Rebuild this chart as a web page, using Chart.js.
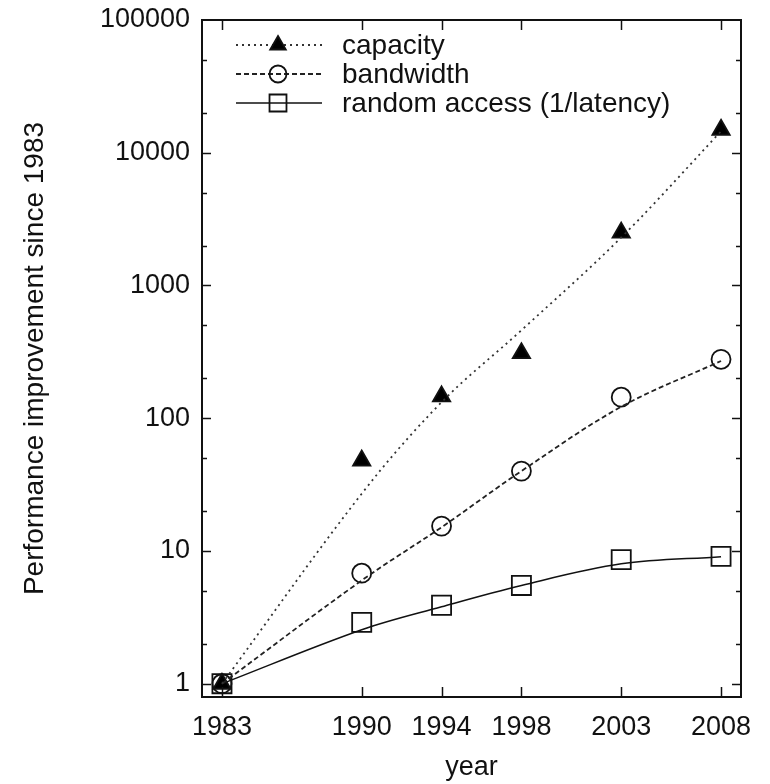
<!DOCTYPE html>
<html>
<head>
<meta charset="utf-8">
<script src="https://cdn.jsdelivr.net/npm/chart.js@4.4.1/dist/chart.umd.min.js"></script>
<style>
  html, body { margin: 0; padding: 0; background: #fff; }
  #wrap { width: 770px; height: 784px; }
</style>
</head>
<body>
<div id="wrap"><canvas id="chart"></canvas></div>
<script>
const years = [1983, 1990, 1994, 1998, 2003, 2008];
const capacity = [1, 48, 146, 309, 2500, 14900];
const bandwidth = [1, 6.8, 15.4, 40, 144, 278];
const randomAccess = [1, 2.9, 3.9, 5.5, 8.6, 9.1];
// fitted curves at the same years
const capacityFit = [1, 27, 132, 460, 2300, 14500];
const bandwidthFit = [1, 6.0, 15.1, 40, 122, 270];
const randomAccessFit = [1, 2.55, 3.8, 5.5, 8.0, 9.06];
const yTicks = [1, 10, 100, 1000, 10000, 100000];
const seriesNames = ["capacity", "bandwidth", "random access (1/latency)"];

const FONT = "'Liberation Sans', Arial, sans-serif";
const pts = (vals) => years.map((yr, i) => ({ x: yr, y: vals[i] }));

const styles = [
  { pointStyle: "triangle", radius: 10, fill: "#000", dash: [2, 4], width: 1.8, color: "#333" },
  { pointStyle: "circle", radius: 9.5, fill: "rgba(0,0,0,0)", dash: [5, 3], width: 1.8, color: "#222" },
  { pointStyle: "rect", radius: 13.5, fill: "rgba(0,0,0,0)", dash: [], width: 1.5, color: "#111" },
];
const fits = [capacityFit, bandwidthFit, randomAccessFit];
const marks = [capacity, bandwidth, randomAccess];

const datasets = [];
fits.forEach((f, i) => {
  datasets.push({
    data: pts(f),
    borderColor: styles[i].color,
    borderWidth: styles[i].width,
    borderDash: styles[i].dash,
    tension: 0.35,
    pointRadius: 0,
    fill: false,
  });
});
marks.forEach((m, i) => {
  datasets.push({
    data: pts(m),
    showLine: false,
    pointStyle: styles[i].pointStyle,
    pointRadius: styles[i].radius,
    pointBorderWidth: 1.8,
    pointBorderColor: "#111",
    pointBackgroundColor: styles[i].fill,
  });
});

function seg(ctx, x1, y1, x2, y2) {
  ctx.beginPath();
  ctx.moveTo(x1, y1);
  ctx.lineTo(x2, y2);
  ctx.stroke();
}

const framePlugin = {
  id: "frame",
  afterDatasetsDraw(chart) {
    const { ctx, chartArea: a, scales } = chart;
    const x = scales.x, y = scales.y;
    ctx.save();
    ctx.strokeStyle = "#111";
    ctx.lineWidth = 1.5;
    years.forEach((v) => {
      const px = Math.round(x.getPixelForValue(v)) + 0.5;
      seg(ctx, px, a.bottom, px, a.bottom - 10);
      seg(ctx, px, a.top, px, a.top + 10);
    });
    for (let d = 0; d < 5; d++) {
      [1, 2, 5].forEach((m) => {
        const v = m * Math.pow(10, d);
        const py = Math.round(y.getPixelForValue(v)) + 0.5;
        const len = m === 1 ? 9 : 5;
        seg(ctx, a.left, py, a.left + len, py);
        seg(ctx, a.right, py, a.right - len, py);
      });
    }
    ctx.lineWidth = 2;
    ctx.strokeRect(a.left, a.top, a.right - a.left, a.bottom - a.top);
    ctx.restore();
  },
};

const legendPlugin = {
  id: "lineLegend",
  afterDraw(chart) {
    const { ctx, chartArea: a } = chart;
    const x1 = a.left + 34, x2 = a.left + 120, xm = a.left + 76, xt = a.left + 140;
    seriesNames.forEach((name, i) => {
      const yy = a.top + 25 + i * 29;
      const s = styles[i];
      ctx.save();
      ctx.strokeStyle = s.color;
      ctx.lineWidth = s.width;
      ctx.setLineDash(s.dash);
      seg(ctx, x1, yy, x2, yy);
      ctx.setLineDash([]);
      ctx.strokeStyle = "#111";
      ctx.fillStyle = s.fill;
      ctx.lineWidth = 1.8;
      Chart.helpers.drawPoint(ctx, {
        pointStyle: s.pointStyle,
        radius: s.pointStyle === "rect" ? 12 : s.radius - 1,
        borderWidth: 1.8,
        rotation: 0,
      }, xm, yy);
      ctx.fillStyle = "#111";
      ctx.font = "28px " + FONT;
      ctx.textBaseline = "middle";
      ctx.textAlign = "left";
      ctx.fillText(name, xt, yy + 1);
      ctx.restore();
    });
  },
};

new Chart(document.getElementById("chart"), {
  type: "line",
  data: { datasets: datasets },
  plugins: [framePlugin, legendPlugin],
  options: {
    responsive: true,
    maintainAspectRatio: false,
    animation: false,
    layout: { padding: { top: 20, right: 29, left: 0, bottom: 0 } },
    plugins: {
      legend: { display: false },
      tooltip: { enabled: false },
    },
    scales: {
      x: {
        type: "linear",
        min: 1982,
        max: 2009,
        grid: { display: false, drawTicks: false },
        border: { display: false },
        afterBuildTicks: (s) => { s.ticks = years.map((v) => ({ value: v })); },
        afterFit: (s) => { s.height = 87; s.paddingLeft = 0; s.paddingRight = 0; },
        ticks: {
          padding: 14,
          color: "#111",
          font: { family: FONT, size: 27 },
          maxRotation: 0,
          autoSkip: false,
          callback: (v) => String(v),
        },
        title: {
          display: true,
          text: "year",
          color: "#111",
          font: { family: FONT, size: 27 },
          padding: { top: 8, bottom: 0 },
        },
      },
      y: {
        type: "logarithmic",
        min: Math.pow(10, -0.1),
        max: 100000,
        grid: { display: false, drawTicks: false },
        border: { display: false },
        afterBuildTicks: (s) => { s.ticks = yTicks.map((v) => ({ value: v })); },
        afterFit: (s) => { s.width = 202; s.paddingTop = 0; s.paddingBottom = 0; },
        ticks: {
          padding: 12,
          color: "#111",
          font: { family: FONT, size: 27 },
          autoSkip: false,
          callback: (v) => String(v),
        },
        title: {
          display: true,
          text: "Performance improvement since 1983",
          color: "#111",
          font: { family: FONT, size: 28 },
          padding: { top: 18, bottom: 0 },
        },
      },
    },
  },
});
</script>
</body>
</html>
